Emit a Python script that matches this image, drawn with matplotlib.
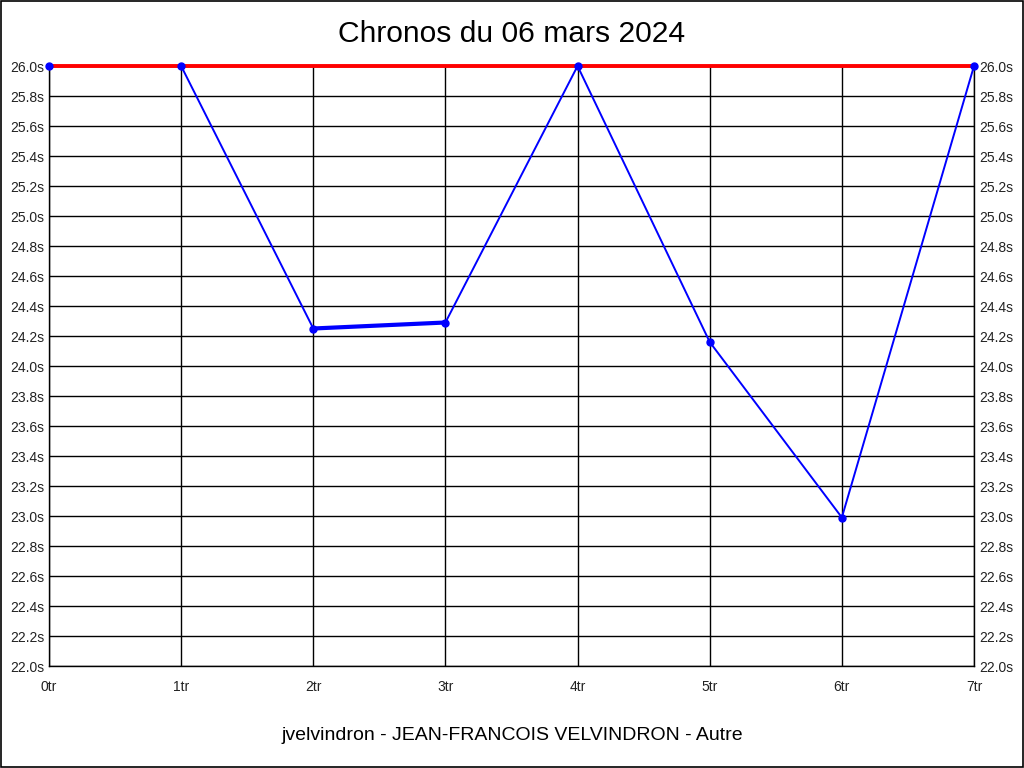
import numpy as np
import matplotlib
matplotlib.use('Agg')
import matplotlib.pyplot as plt
from matplotlib.ticker import FuncFormatter

plt.rcParams['font.family'] = ['Liberation Sans', 'DejaVu Sans']

# chronos par tour
laps = [0, 1, 2, 3, 4, 5, 6, 7]
times = [26.0, 26.0, 24.25, 24.29, 26.0, 24.16, 22.99, 26.0]
ref_time = 26.0
y_ticks = np.arange(22.0, 26.01, 0.2)

fig = plt.figure(figsize=(10.24, 7.68), dpi=100)
ax = fig.add_axes([49/1024, 102/768, 925/1024, 600/768])

# border round the picture
fig.patches.append(plt.Rectangle((0.0005, 0.0007), 0.999, 0.9986, transform=fig.transFigure,
                                 fill=False, edgecolor='black', linewidth=1.2))

ax.set_xlim(0, 7)
ax.set_ylim(22.0, 26.0)
ax.set_xticks(laps)
ax.set_yticks(y_ticks)
ax.grid(True, color='black', linewidth=1.0)
ax.set_axisbelow(True)

# line first, red reference over it, then the markers on top
ax.plot(laps, times, color='blue', linewidth=1.4, zorder=3, clip_on=False)
# segment drawn thicker in the original
ax.plot(laps[2:4], times[2:4], color='blue', linewidth=3, zorder=3)
ax.axhline(ref_time, color='red', linewidth=2.8, zorder=4, clip_on=False)
ax.plot(laps, times, linestyle='none', color='blue', marker='o', markersize=5, zorder=5, clip_on=False)

ax.xaxis.set_major_formatter(FuncFormatter(lambda v, p: '%dtr' % v))
ax.yaxis.set_major_formatter(FuncFormatter(lambda v, p: '%.1fs' % v))
ax.tick_params(axis='both', length=0, labelsize=10, colors='#222222')
ax.tick_params(axis='y', pad=3.5, labelright=True, right=False)
ax.tick_params(axis='x', pad=10)
for s in ax.spines.values():
    s.set_linewidth(1.0)
ax.spines['top'].set_visible(False)

fig.text(0.5, 1 - 34/768, 'Chronos du 06 mars 2024', ha='center', va='center', fontsize=21.6)
fig.text(0.5, 1 - 735/768, 'jvelvindron - JEAN-FRANCOIS VELVINDRON - Autre', ha='center', va='center', fontsize=14)

fig.savefig('out.png', dpi=100)
